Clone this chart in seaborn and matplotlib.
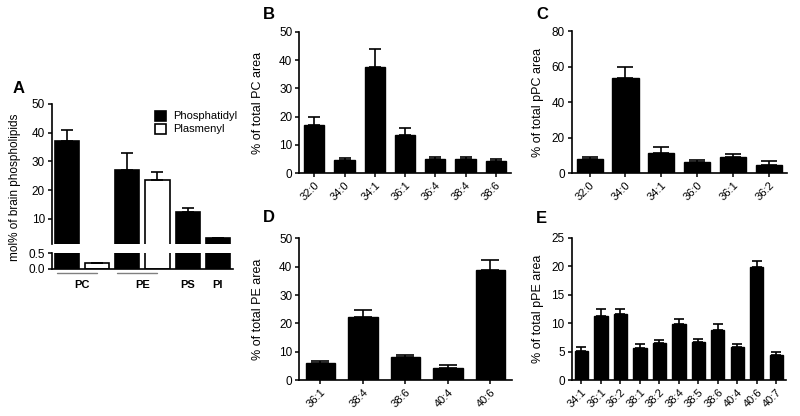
import numpy as np
import pandas as pd
import matplotlib
matplotlib.use("Agg")
import matplotlib.pyplot as plt
import matplotlib.transforms as mtransforms
import seaborn as sns

# Panel A - brain phospholipid classes
a_class = ["PC", "PC", "PE", "PE", "PS", "PI"]
a_type = ["Phosphatidyl", "Plasmenyl", "Phosphatidyl", "Plasmenyl", "Phosphatidyl", "Phosphatidyl"]
a_val = [37.1, 0.2, 27.2, 23.5, 12.5, 3.5]
a_err = [4.0, 0.0, 5.7, 2.8, 1.4, 0.0]

# Panel B - PC species
b_lab = ["32:0", "34:0", "34:1", "36:1", "36:4", "38:4", "38:6"]
b_val = [17.0, 4.7, 37.6, 13.6, 5.2, 4.9, 4.5]
b_err = [2.8, 0.7, 6.2, 2.5, 0.7, 0.7, 0.7]

# Panel C - pPC species
c_lab = ["32:0", "34:0", "34:1", "36:0", "36:1", "36:2"]
c_val = [8.1, 53.8, 11.1, 6.4, 8.9, 4.7]
c_err = [0.8, 6.2, 3.8, 0.8, 1.9, 2.1]

# Panel D - PE species
d_lab = ["36:1", "38:4", "38:6", "40:4", "40:6"]
d_val = [6.0, 22.4, 8.2, 4.4, 38.9]
d_err = [0.7, 2.4, 0.7, 0.8, 3.5]

# Panel E - pPE species
e_lab = ["34:1", "36:1", "36:2", "38:1", "38:2", "38:4", "38:5", "38:6", "40:4", "40:6", "40:7"]
e_val = [5.2, 11.3, 11.6, 5.6, 6.5, 9.8, 6.7, 8.9, 5.8, 19.8, 4.5]
e_err = [0.7, 1.2, 0.9, 0.7, 0.6, 1.0, 0.6, 1.0, 0.5, 1.2, 0.4]

sns.set_style("ticks")
plt.rcParams["font.family"] = ["Liberation Sans", "DejaVu Sans"]
plt.rcParams["axes.linewidth"] = 1.2
plt.rcParams["xtick.major.width"] = 1.1
plt.rcParams["ytick.major.width"] = 1.1
plt.rcParams["xtick.major.size"] = 3
plt.rcParams["ytick.major.size"] = 3
plt.rcParams["xtick.color"] = "black"
plt.rcParams["ytick.color"] = "black"
plt.rcParams["axes.edgecolor"] = "black"
plt.rcParams["text.color"] = "black"
plt.rcParams["axes.labelcolor"] = "black"

fig = plt.figure(figsize=(8, 4.16), dpi=100)


def species_panel(rect, labels, vals, errs, ymax, ystep, ylabel, width, cap, labx):
    ax = fig.add_axes(rect)
    sns.barplot(x=labels, y=vals, color="black", edgecolor="black", width=width,
                errorbar=None, ax=ax, saturation=1)
    ax.errorbar(np.arange(len(vals)), vals, yerr=[np.zeros(len(vals)), errs],
                fmt="none", ecolor="black", elinewidth=1.2, capsize=cap, capthick=1.2)
    ax.set_xlim(-0.5, len(vals) - 0.5)
    ax.set_ylim(0, ymax)
    ax.set_yticks(np.arange(0, ymax + 1, ystep))
    ax.tick_params(axis="y", labelsize=8.5, pad=2)
    ax.tick_params(axis="x", labelsize=8, pad=2)
    plt.setp(ax.get_xticklabels(), rotation=45, ha="right", rotation_mode="anchor")
    ax.set_ylabel(ylabel, fontsize=9)
    ax.yaxis.set_label_coords(labx, 0.5)
    sns.despine(ax=ax)
    return ax


species_panel([0.374, 0.5834, 0.2646, 0.3404], b_lab, b_val, b_err, 50, 10,
              "% of total PC area", 0.67, 4.3, -0.165)
species_panel([0.7146, 0.584, 0.2688, 0.3413], c_lab, c_val, c_err, 80, 20,
              "% of total pPC area", 0.73, 5.6, -0.13)
species_panel([0.374, 0.0865, 0.2655, 0.3406], d_lab, d_val, d_err, 50, 10,
              "% of total PE area", 0.69, 6.5, -0.165)
species_panel([0.7146, 0.0858, 0.268, 0.3425], e_lab, e_val, e_err, 25, 5,
              "% of total pPE area", 0.68, 3.8, -0.13)

# Panel A with a broken y axis
df_a = pd.DataFrame({"bar": [f"{c} {t}" for c, t in zip(a_class, a_type)],
                     "type": a_type, "value": a_val, "err": a_err})
pal = {"Phosphatidyl": "black", "Plasmenyl": "white"}

ax_top = fig.add_axes([0.065, 0.4135, 0.226, 0.3365])
ax_bot = fig.add_axes([0.065, 0.3534, 0.226, 0.039])
for ax in (ax_top, ax_bot):
    sns.barplot(data=df_a, x="bar", y="value", hue="type", palette=pal, dodge=False,
                edgecolor="black", linewidth=1.2, width=0.8, errorbar=None, ax=ax,
                saturation=1, legend=(ax is ax_top))
    ax.errorbar(np.arange(len(df_a)), df_a["value"], yerr=[np.zeros(len(df_a)), df_a["err"]],
                fmt="none", ecolor="black", elinewidth=1.2, capsize=4, capthick=1.2)
    ax.set_xlim(-0.5, len(df_a) - 0.5)
    ax.set_xlabel("")
    ax.set_ylabel("")
    ax.tick_params(axis="y", labelsize=8.5, pad=2)

ax_top.set_ylim(1.3, 50)
ax_top.set_yticks([10, 20, 30, 40, 50])
ax_top.set_xticks([])
sns.despine(ax=ax_top, bottom=True)
ax_top.legend(loc="upper right", bbox_to_anchor=(1.06, 1.0), frameon=False, fontsize=8,
              handlelength=1.0, handleheight=1.0, handletextpad=0.6, labelspacing=0.2,
              borderaxespad=0.2)

ax_bot.set_ylim(0, 0.52)
ax_bot.set_yticks([0.0, 0.5])
ax_bot.set_yticklabels(["0.0", "0.5"])
sns.despine(ax=ax_bot)

# class labels under the bars
classes = list(dict.fromkeys(a_class))
centers = [np.mean([i for i, c in enumerate(a_class) if c == k]) for k in classes]
ax_bot.set_xticks(centers)
ax_bot.set_xticklabels(classes, fontsize=8, fontweight="bold")
ax_bot.tick_params(axis="x", length=0, pad=8)
trans = mtransforms.blended_transform_factory(ax_bot.transData, ax_bot.transAxes)
for k in classes:
    idx = [i for i, c in enumerate(a_class) if c == k]
    if len(idx) > 1:
        ax_bot.plot([idx[0] - 0.35, idx[-1] + 0.0], [-0.25, -0.25], color="#808080",
                    lw=1.0, transform=trans, clip_on=False)

fig.text(0.019, 0.55, "mol% of brain phospholipids", rotation=90, ha="center",
         va="center", fontsize=8.5)

# panel letters
for lab, x, y in [("A", 0.016, 0.788), ("B", 0.329, 0.964), ("C", 0.67, 0.964),
                  ("D", 0.329, 0.476), ("E", 0.67, 0.474)]:
    fig.text(x, y, lab, fontsize=12, fontweight="bold", ha="left", va="center")

fig.savefig("out.png", dpi=100)
